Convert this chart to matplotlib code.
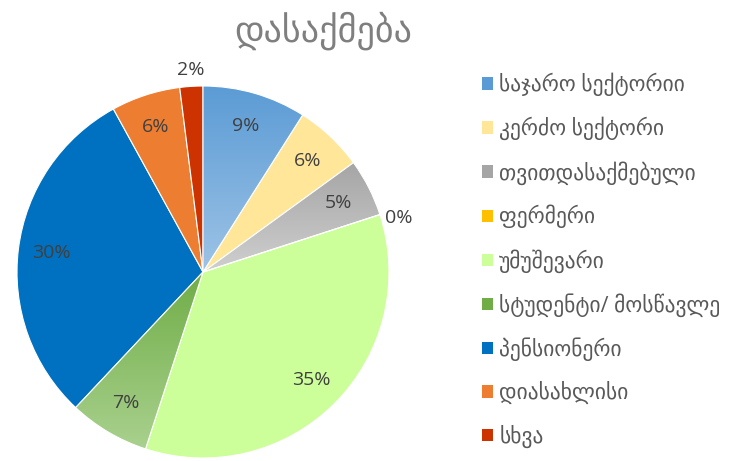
import matplotlib
matplotlib.use('Agg')
import numpy as np
from matplotlib import pyplot as plt
from matplotlib.patches import Patch
from matplotlib.colors import to_rgb

plt.rcParams['font.family'] = ['Open Sans', 'DejaVu Sans']

# employment categories and their shares (%)
categories = ['საჯარო სექტორიი', 'კერძო სექტორი', 'თვითდასაქმებული', 'ფერმერი',
              'უმუშევარი', 'სტუდენტი/ მოსწავლე', 'პენსიონერი', 'დიასახლისი', 'სხვა']
shares = [9, 6, 5, 0, 35, 7, 30, 6, 2]
pct_labels = ['9%', '6%', '5%', '0%', '35%', '7%', '30%', '6%', '2%']

# (top colour, bottom colour) - same colour twice means flat fill
fills = [('#5B9BD5', '#9DC3E6'),
         ('#FFE699', '#FFE699'),
         ('#A5A5A5', '#CFCFCF'),
         ('#FFC000', '#FFD966'),
         ('#CCFF99', '#CCFF99'),
         ('#70AD47', '#A9D18E'),
         ('#0070C0', '#0070C0'),
         ('#ED7D31', '#ED7D31'),
         ('#CC3300', '#CC3300')]

W, H = 733, 461
fig = plt.figure(figsize=(W / 100, H / 100), dpi=100)

cx, cy, r = 203, 272, 186
ax = fig.add_axes([(cx - r) / W, (H - cy - r) / H, 2 * r / W, 2 * r / H])

wedges, _ = ax.pie(shares, startangle=90, counterclock=False,
                   colors=[f[0] for f in fills],
                   wedgeprops=dict(edgecolor='white', linewidth=0.8))

# vertical gradient fill inside each wedge
for w, (c_top, c_bot) in zip(wedges, fills):
    if c_top == c_bot:
        continue
    v = w.get_path().vertices
    if len(v) == 0:
        continue
    x0, x1 = v[:, 0].min(), v[:, 0].max()
    y0, y1 = v[:, 1].min(), v[:, 1].max()
    if x1 - x0 < 1e-6:
        continue
    t = np.linspace(0, 1, 256)[:, None, None]
    grad = (1 - t) * np.array(to_rgb(c_top)) + t * np.array(to_rgb(c_bot))
    im = ax.imshow(grad, extent=[x0, x1, y0, y1], origin='upper',
                   aspect='auto', zorder=1, interpolation='bilinear')
    im.set_clip_path(w)
    w.set_facecolor('none')
    w.set_zorder(2)

# percentage labels, small slices pushed outside
for w, lab, val in zip(wedges, pct_labels, shares):
    ang = np.deg2rad((w.theta1 + w.theta2) / 2)
    dist = 0.82 if val >= 4 else 1.09
    if val == 0:
        ang = np.deg2rad(w.theta1 - 2.5)
    ax.text(dist * np.cos(ang), dist * np.sin(ang), lab, ha='center', va='center',
            fontsize=14, color='#404040', zorder=5, clip_on=False)

ax.set_xlim(-1, 1)
ax.set_ylim(-1, 1)
ax.set_aspect('equal')
ax.axis('off')

fig.text(323 / W, 1 - 31 / H, 'დასაქმება', ha='center', va='center',
         fontsize=26, color='#7F7F7F')

handles = [Patch(facecolor=f[0], edgecolor='none') for f in fills]
fig.legend(handles, categories, loc='upper left',
           bbox_to_anchor=(482 / W, 1 - 73 / H), frameon=False,
           fontsize=15.5, labelcolor='#595959', handlelength=0.52,
           handleheight=0.52, handletextpad=0.28, labelspacing=0.95,
           borderaxespad=0, borderpad=0)

fig.savefig('out.png', dpi=100)
